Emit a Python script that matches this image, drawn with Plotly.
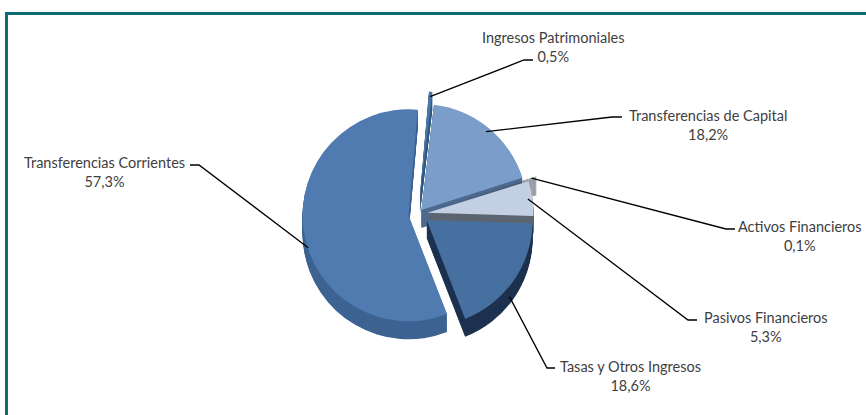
import math
import plotly.graph_objects as go

# ---------------- data ----------------
labels = ["Ingresos Patrimoniales", "Transferencias de Capital", "Activos Financieros",
          "Pasivos Financieros", "Tasas y Otros Ingresos", "Transferencias Corrientes"]
values = [0.5, 18.2, 0.1, 5.3, 18.6, 57.3]
value_text = ["0,5%", "18,2%", "0,1%", "5,3%", "18,6%", "57,3%"]

# ---------------- style / layout ----------------
W, H = 866, 415
top_colors = ["#4a78ad", "#7b9dc9", "#525e6e", "#c3d0e3", "#46709f", "#4f7bb0"]
side_colors = ["#35597f", "#4d6a90", "#3f4957", "#5c6571", "#1e3250", "#3d6392"]
pulls = [0.16, 0.05, 0.17, 0.09, 0.10, 0.09]
CX, CY, HALF = 418, 214, 124          # pie box centre and half size (px)
DEPTH = 18
ROT = 5
TEXT_COLOR = "#404040"
FONT = "Lato"
FSIZE = 14.5

# label block centres, leader elbow and tick end (px)
label_pos = [(553, 47), (708, 125), (800, 236), (766, 327), (630, 376), (104, 172)]
elbows = [((524, 60), (533, 60)), ((612, 117), (622, 117)), ((726, 229), (735, 229)),
          ((688, 320), (697, 320)), ((547, 368), (555, 368)), ((199, 165), (190, 165))]


def px(x, y):
    return x / W, 1 - y / H


def domain(cx, cy, half):
    return dict(x=[(cx - half) / W, (cx + half) / W],
                y=[1 - (cy + half) / H, 1 - (cy - half) / H])


fig = go.Figure()

# extruded sides (stacked darker pies)
for off in range(DEPTH, 0, -1):
    fig.add_trace(go.Pie(labels=labels, values=values, sort=False, direction="clockwise",
                         rotation=ROT, pull=pulls, textinfo="none", hoverinfo="skip",
                         marker=dict(colors=side_colors, line=dict(width=0)),
                         domain=domain(CX, CY + off, HALF), showlegend=False))
# top faces
fig.add_trace(go.Pie(labels=labels, values=values, sort=False, direction="clockwise",
                     rotation=ROT, pull=pulls, textinfo="none",
                     hovertemplate="%{label}: %{percent}<extra></extra>",
                     marker=dict(colors=top_colors, line=dict(width=0)),
                     domain=domain(CX, CY, HALF), showlegend=False))

# leader lines + labels
r = HALF / (1 + max(pulls))
shapes = []
annotations = []
cum = 0.0
for i, v in enumerate(values):
    mid = cum + v / 2
    cum += v
    th = math.radians(ROT + 360 * mid / 100)
    d = r * (1 + pulls[i]) * 0.96
    axp = CX + d * math.sin(th)
    ayp = CY - d * math.cos(th)
    if math.cos(th) < 0:
        ayp += DEPTH
    (ex, ey), (tx, ty) = elbows[i]
    p0, p1, p2 = px(axp, ayp), px(ex, ey), px(tx, ty)
    shapes.append(dict(type="path", xref="paper", yref="paper",
                       path=f"M {p0[0]} {p0[1]} L {p1[0]} {p1[1]} L {p2[0]} {p2[1]}",
                       line=dict(color="#000000", width=1.3)))
    lx, ly = px(*label_pos[i])
    annotations.append(dict(x=lx, y=ly, xref="paper", yref="paper", showarrow=False,
                            text=f"{labels[i]}<br>{value_text[i]}", align="center",
                            xanchor="center", yanchor="middle",
                            font=dict(family=FONT, size=FSIZE, color=TEXT_COLOR)))

# teal frame
shapes.append(dict(type="rect", xref="paper", yref="paper",
                   x0=6.5 / W, x1=1.05, y0=-0.05, y1=1 - 13.5 / H,
                   line=dict(color="#0f6b74", width=3), fillcolor="rgba(0,0,0,0)"))

fig.update_layout(width=W, height=H, margin=dict(l=0, r=0, t=0, b=0),
                  paper_bgcolor="white", plot_bgcolor="white",
                  shapes=shapes, annotations=annotations)

fig.write_html("out.html", config={"displayModeBar": False},
               post_script="document.body.style.margin='0px';document.body.style.overflow='hidden';")
